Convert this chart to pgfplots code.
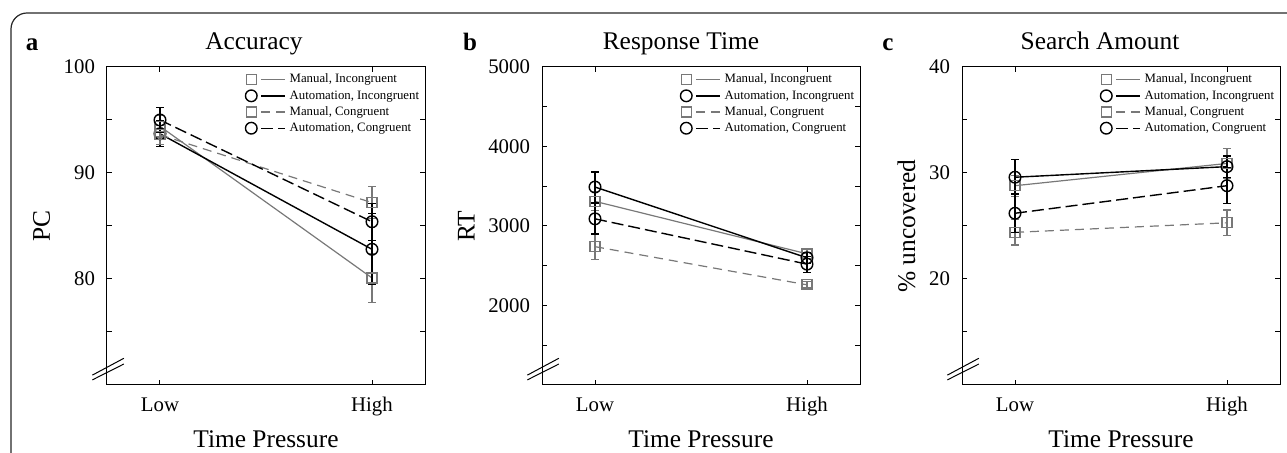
\documentclass[border=0pt]{standalone}
\usepackage{fontspec}
\setmainfont{Liberation Serif}
\usepackage{pgfplots}
\pgfplotsset{compat=1.18}
\definecolor{mgray}{gray}{0.47}

\pgfplotsset{
  panel/.style={
    scale only axis, width=159pt, height=159pt,
    xmin=-0.25, xmax=1.25, xtick={0,1}, xticklabels={Low,High},
    tick align=inside, major tick length=2.5pt, minor tick length=2.5pt,
    every tick/.style={black, line width=0.5pt},
    axis line style={line width=0.5pt},
    /pgf/number format/assume math mode=true,
    /pgf/number format/1000 sep={},
    tick label style={font=\fontsize{10.4}{12}\selectfont},
    x tick label style={anchor=base, yshift=-13.5pt},
    y tick label style={xshift=-2.5pt},
    label style={font=\fontsize{12.7}{15}\selectfont},
    xlabel={Time Pressure},
    xlabel style={at={(axis description cs:0.5,0)}, anchor=base, yshift=-31.5pt},
    title style={font=\fontsize{12.7}{15}\selectfont, at={(axis description cs:0.5,1)}, anchor=base, yshift=2.5pt},
    clip=false,
    legend cell align=left,
    legend style={draw=none, fill=none, at={(axis description cs:1.009,0.993)}, anchor=north east,
      font=\fontsize{6.4}{7.5}\selectfont, row sep=2.1pt,
      nodes={inner ysep=0pt, inner xsep=1.2pt, text height=4.6pt, text depth=1.4pt}},
    legend image code/.code={
      \path[draw=none, fill=none] (-3pt,0pt) -- (18pt,0pt);
      \draw[#1, mark=none] (5pt,0pt) -- (17pt,0pt);
      \draw[#1, only marks] plot coordinates {(0pt,0pt)};
    },
  },
  eb/.style={error bars/y dir=both, error bars/y explicit,
    error bars/error bar style={solid, line width=0.6pt},
    error bars/error mark options={rotate=90, mark size=1.8pt, solid, line width=0.6pt}},
  mi/.style={mgray, line width=0.6pt, mark=square, mark size=2.5pt, mark options={solid}, eb},
  ai/.style={black, line width=0.7pt, mark=o, mark size=2.9pt, mark options={solid}, eb},
  mc/.style={mgray, line width=0.6pt, dash pattern=on 4.5pt off 3pt, mark=square, mark size=2.5pt, mark options={solid}, eb},
  ac/.style={black, line width=0.7pt, dash pattern=on 6pt off 2.5pt, mark=o, mark size=2.9pt, mark options={solid}, eb},
}

\begin{document}
\begin{tikzpicture}
\draw[line width=0.6pt, rounded corners=8pt, black!85] (5.5pt,-20pt) -- (5.5pt,220pt) -- (700pt,220pt);

\node[font=\bfseries\fontsize{12.5}{15}\selectfont, anchor=base] at (16pt,201pt) {a};
\node[font=\bfseries\fontsize{12.5}{15}\selectfont, anchor=base] at (235pt,201pt) {b};
\node[font=\bfseries\fontsize{12.5}{15}\selectfont, anchor=base] at (444pt,201pt) {c};

% a: accuracy
\begin{axis}[panel, at={(53.5pt,34pt)}, anchor=south west,
  ymin=70, ymax=100, ytick={80,90,100}, minor ytick={75,85,95},
  ylabel={PC}, title={Accuracy}, title style={xshift=-6pt}]
  \addplot[mi] coordinates {(0,94.4) +- (0,1.0) (1,80.1) +- (0,2.3)};
  \addplot[ai] coordinates {(0,93.7) +- (0,1.2) (1,82.8) +- (0,3.35)};
  \addplot[mc] coordinates {(0,93.6) +- (0,0.9) (1,87.2) +- (0,1.5)};
  \addplot[ac] coordinates {(0,95.0) +- (0,1.2) (1,85.4) +- (0,1.75)};
  \legend{{Manual, Incongruent},{Automation, Incongruent},{Manual, Congruent},{Automation, Congruent}}
  \draw[line width=0.5pt] (rel axis cs:-0.046,0.031) -- (rel axis cs:0.053,0.084);
  \draw[line width=0.5pt] (rel axis cs:-0.046,0.016) -- (rel axis cs:0.053,0.066);
\end{axis}

% b: response time
\begin{axis}[panel, at={(271pt,34pt)}, anchor=south west,
  ymin=1000, ymax=5000, ytick={2000,3000,4000,5000}, minor ytick={1500,2500,3500,4500},
  ylabel={RT}, title={Response Time}, title style={xshift=-10pt}]
  \addplot[mi] coordinates {(0,3310) +- (0,120) (1,2650) +- (0,60)};
  \addplot[ai] coordinates {(0,3490) +- (0,190) (1,2600) +- (0,70)};
  \addplot[mc] coordinates {(0,2740) +- (0,160) (1,2260) +- (0,40)};
  \addplot[ac] coordinates {(0,3090) +- (0,190) (1,2520) +- (0,100)};
  \legend{{Manual, Incongruent},{Automation, Incongruent},{Manual, Congruent},{Automation, Congruent}}
  \draw[line width=0.5pt] (rel axis cs:-0.046,0.031) -- (rel axis cs:0.053,0.084);
  \draw[line width=0.5pt] (rel axis cs:-0.046,0.016) -- (rel axis cs:0.053,0.066);
\end{axis}

% c: search amount
\begin{axis}[panel, at={(481pt,34pt)}, anchor=south west,
  ymin=10, ymax=40, ytick={20,30,40}, minor ytick={15,25,35},
  ylabel={\% uncovered}, title={Search Amount}, title style={xshift=-10.5pt}]
  \addplot[mi] coordinates {(0,28.8) +- (0,1.0) (1,30.9) +- (0,1.4)};
  \addplot[ai] coordinates {(0,29.6) +- (0,1.65) (1,30.6) +- (0,1.0)};
  \addplot[mc] coordinates {(0,24.4) +- (0,1.2) (1,25.3) +- (0,1.2)};
  \addplot[ac] coordinates {(0,26.2) +- (0,1.85) (1,28.8) +- (0,1.7)};
  \legend{{Manual, Incongruent},{Automation, Incongruent},{Manual, Congruent},{Automation, Congruent}}
  \draw[line width=0.5pt] (rel axis cs:-0.046,0.031) -- (rel axis cs:0.053,0.084);
  \draw[line width=0.5pt] (rel axis cs:-0.046,0.016) -- (rel axis cs:0.053,0.066);
\end{axis}

\pgfresetboundingbox
\useasboundingbox (0,0) rectangle (643.5pt,226.5pt);
\end{tikzpicture}
\end{document}
